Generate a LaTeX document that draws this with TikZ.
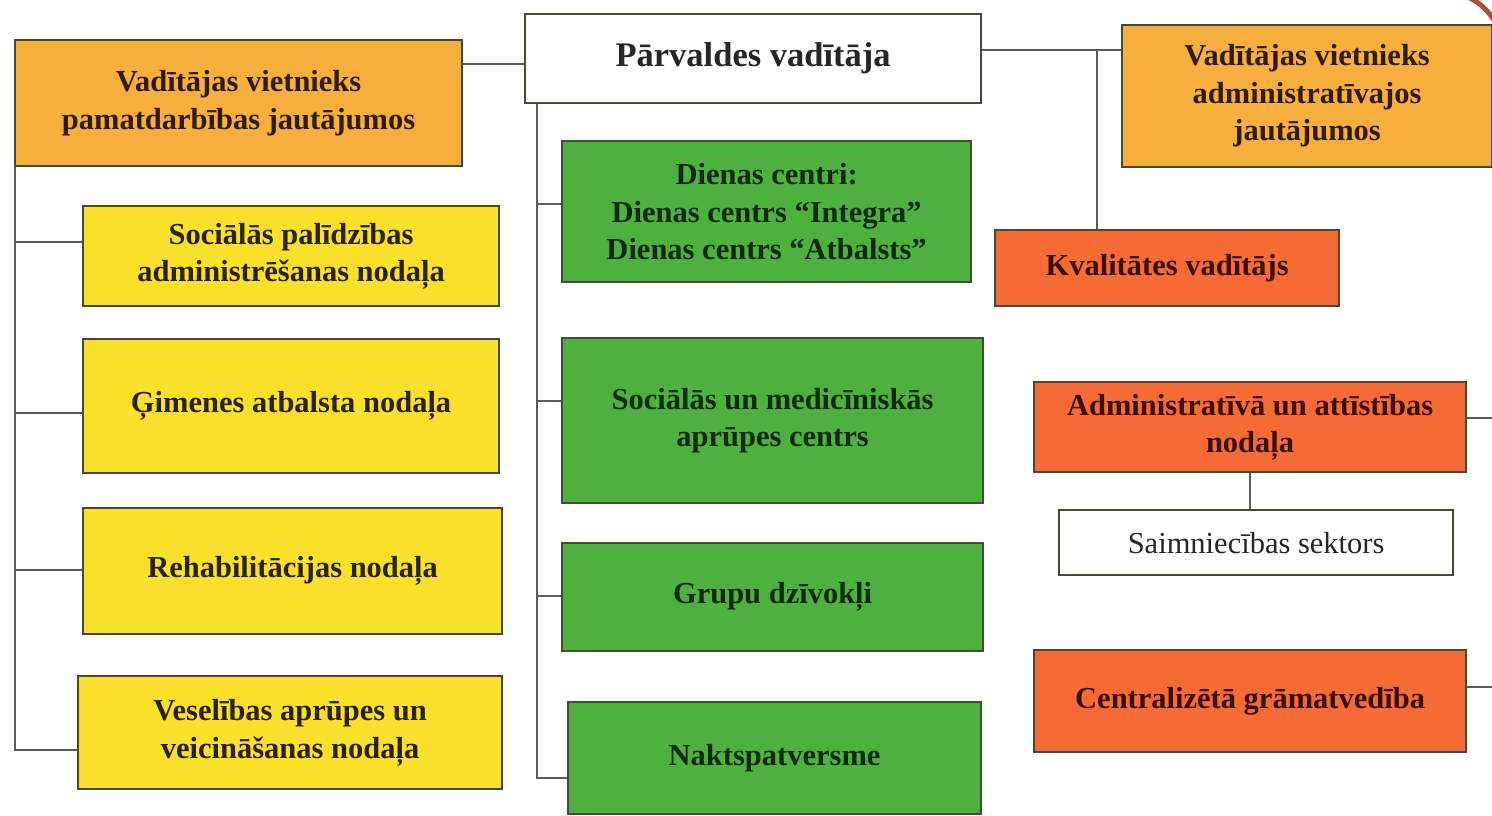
\documentclass[tikz,border=0pt]{standalone}
\usepackage{fontspec}
\setmainfont{Liberation Serif}
\definecolor{cDep}{HTML}{F6AE3C}
\definecolor{cYel}{HTML}{F9E02A}
\definecolor{cGrn}{HTML}{4DB03F}
\definecolor{cRed}{HTML}{F46B35}
\definecolor{cBord}{HTML}{4A4838}
\definecolor{cLine}{HTML}{5A5A5A}
\definecolor{tDep}{HTML}{2E1C06}
\definecolor{tYel}{HTML}{2A2200}
\definecolor{tGrn}{HTML}{0E2A08}
\definecolor{tRed}{HTML}{3A0E00}
\definecolor{cArc}{HTML}{B0503A}
\begin{document}
\begin{tikzpicture}[x=1pt,y=-1pt,
  boxbase/.style={draw=cBord, line width=2.2pt, anchor=north west, inner sep=0pt,
    align=center, font=\fontsize{30.5}{37.5}\selectfont\bfseries},
  depbox/.style={boxbase, fill=cDep, text=tDep},
  yelbox/.style={boxbase, fill=cYel, text=tYel},
  grnbox/.style={boxbase, fill=cGrn, text=tGrn},
  redbox/.style={boxbase, fill=cRed, text=tRed},
  whitebox/.style={boxbase, fill=white, text=black!85},
  conn/.style={draw=cLine, line width=2.2pt}]
\useasboundingbox (0,0) rectangle (1492,815);
\fill[white] (0,0) rectangle (1492,815);
% nodes
\node[depbox, minimum width=447, minimum height=126] (dep1) at (14,39) {Vadītājas vietnieks\\pamatdarbības jautājumos};
\node[whitebox, minimum width=456, minimum height=89, font=\fontsize{34.5}{40}\selectfont\bfseries] (top) at (524,13) {Pārvaldes vadītāja};
\node[depbox, minimum width=370, minimum height=142] (dep2) at (1121,24) {Vadītājas vietnieks\\administratīvajos\\jautājumos};
\node[redbox, minimum width=344, minimum height=76] (kval) at (994,229) {Kvalitātes vadītājs};
\node[yelbox, minimum width=416, minimum height=100] (soc) at (82,205) {Sociālās palīdzības\\administrēšanas nodaļa};
\node[yelbox, minimum width=416, minimum height=134] (gim) at (82,338) {Ģimenes atbalsta nodaļa};
\node[yelbox, minimum width=419, minimum height=126] (reh) at (82,507) {Rehabilitācijas nodaļa};
\node[yelbox, minimum width=424, minimum height=113] (ves) at (77,675) {Veselības aprūpes un\\veicināšanas nodaļa};
\node[grnbox, minimum width=409, minimum height=141] (dien) at (561,140) {Dienas centri:\\Dienas centrs “Integra”\\Dienas centrs “Atbalsts”};
\node[grnbox, minimum width=421, minimum height=165] (socmed) at (561,337) {Sociālās un medicīniskās\\aprūpes centrs};
\node[grnbox, minimum width=421, minimum height=108] (grupu) at (561,542) {Grupu dzīvokļi};
\node[grnbox, minimum width=413, minimum height=112] (nakt) at (567,701) {Naktspatversme};
\node[redbox, minimum width=432, minimum height=90] (adm) at (1033,381) {Administratīvā un attīstības\\nodaļa};
\node[whitebox, minimum width=394, minimum height=65, font=\fontsize{30.5}{36}\selectfont] (saim) at (1058,509) {Saimniecības sektors};
\node[redbox, minimum width=432, minimum height=102] (cent) at (1033,649) {Centralizētā grāmatvedība};
% connector coordinates
\coordinate (j1) at (0,64);
\coordinate (j2) at (0,50);
\coordinate (k) at (1097,50);
\coordinate (lx) at (15,0);
\coordinate (b1) at (15,242);
\coordinate (b2) at (15,413);
\coordinate (b3) at (15,570);
\coordinate (b4) at (15,750);
\coordinate (cx) at (537,0);
\coordinate (c1) at (537,204);
\coordinate (c2) at (537,401);
\coordinate (c3) at (537,596);
\coordinate (c4) at (537,778);
\coordinate (e1) at (1492,418);
\coordinate (e2) at (1492,687);
% connectors
\draw[conn] (dep1.east |- j1) -- (top.west |- j1);
\draw[conn] (top.east |- j2) -- (dep2.west |- j2);
\draw[conn] (k) -- (k |- kval.north);
\draw[conn] (lx |- dep1.south) -- (b4) -- (ves.west |- b4);
\draw[conn] (b1) -- (soc.west |- b1);
\draw[conn] (b2) -- (gim.west |- b2);
\draw[conn] (b3) -- (reh.west |- b3);
\draw[conn] (cx |- top.south) -- (c4) -- (nakt.west |- c4);
\draw[conn] (c1) -- (dien.west |- c1);
\draw[conn] (c2) -- (socmed.west |- c2);
\draw[conn] (c3) -- (grupu.west |- c3);
\draw[conn] (adm.south) -- (adm.south |- saim.north);
\draw[conn] (adm.east |- e1) -- (e1);
\draw[conn] (cent.east |- e2) -- (e2);
% corner decoration
\draw[cArc, line width=5pt] (1468,-3) .. controls (1480,3) and (1488,10) .. (1495,22);
\end{tikzpicture}
\end{document}
